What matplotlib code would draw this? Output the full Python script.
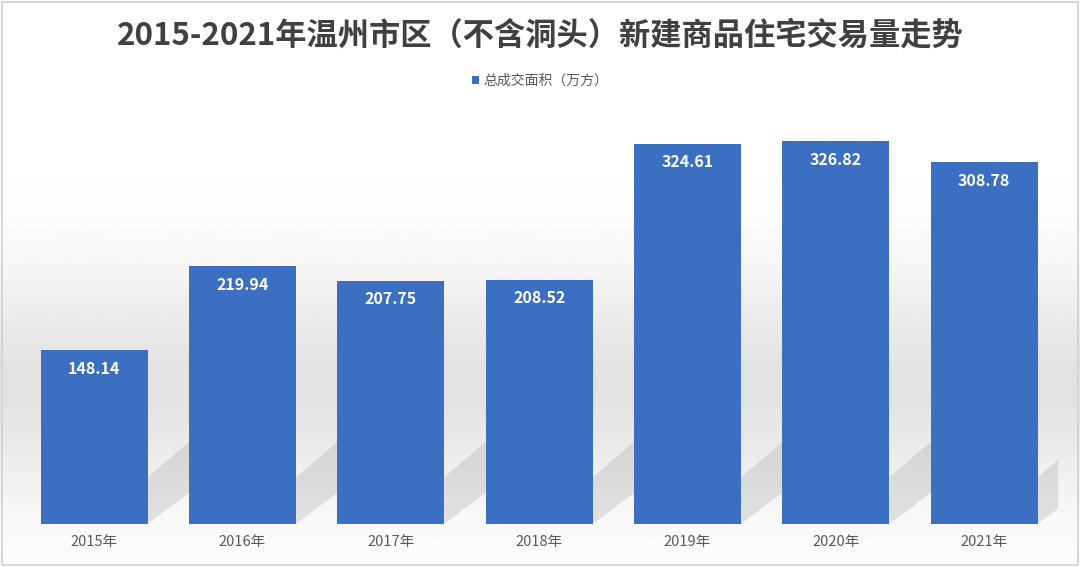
import matplotlib.pyplot as plt
import numpy as np
from matplotlib.patches import Polygon, Rectangle

plt.rcParams['font.family'] = ['Noto Sans CJK SC', 'DejaVu Sans']

years = ['2015年', '2016年', '2017年', '2018年', '2019年', '2020年', '2021年']
area = [148.14, 219.94, 207.75, 208.52, 324.61, 326.82, 308.78]
title = '2015-2021年温州市区（不含洞头）新建商品住宅交易量走势'
legend_label = '总成交面积（万方）'

fig = plt.figure(figsize=(10.8, 5.67), dpi=100)

# background gradient (white -> light gray -> white)
bg = fig.add_axes([0, 0, 1, 1], zorder=-10)
t = np.linspace(0, 1, 300)
grad = 1 - 0.11 * np.exp(-((t - 0.32) / 0.2) ** 2)
bg.imshow(grad[:, None] * np.ones((1, 10)), aspect='auto', cmap='gray',
          vmin=0, vmax=1, extent=[0, 1, 0, 1], origin='lower')
bg.set_xlim(0, 1)
bg.set_ylim(0, 1)
bg.axis('off')
bg.add_patch(Rectangle((0.002, 0.003), 0.996, 0.994, fill=False,
                       edgecolor='#d0d0d0', linewidth=1.2))

ax = fig.add_axes([0.0185, 0.0758, 0.9615, 0.748])
ax.set_facecolor('none')
x = np.arange(len(years))
w = 0.72
bars = ax.bar(x, area, width=w, color='#3b6fc1', zorder=3, label=legend_label)

# soft diagonal shadows behind bars
for xi, h in zip(x, area):
    r = xi + w / 2
    s = min(h, 40)
    ax.add_patch(Polygon([(r, 0), (r, s), (r + 0.42, s + 45), (r + 0.42, 40)],
                         closed=True, facecolor='#9a9a9a', alpha=0.25,
                         edgecolor='none', zorder=2))

for b, v in zip(bars, area):
    ax.text(b.get_x() + b.get_width() / 2, v - 9, f'{v:.2f}',
            ha='center', va='top', color='white', fontsize=11.5,
            fontweight='bold', zorder=4)

ax.set_xlim(-0.5, len(years) - 0.5)
ax.set_ylim(0, 362)
ax.set_xticks(x)
ax.set_xticklabels(years, fontsize=10.5, color='#595959')
ax.tick_params(axis='x', length=0, pad=8)
ax.set_yticks([])
for sp in ax.spines.values():
    sp.set_visible(False)

fig.text(0.5, 0.938, title, ha='center', va='center', fontsize=22.5,
         fontweight='bold', color='#404040')
fig.legend(loc='center', bbox_to_anchor=(0.5, 0.858), frameon=False,
           fontsize=10, handlelength=0.5, handleheight=0.5, handletextpad=0.3,
           labelcolor='#595959')

fig.savefig('out.png', dpi=100)
